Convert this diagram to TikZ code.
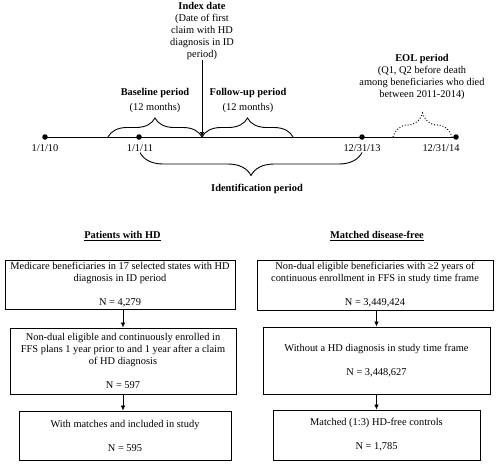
\documentclass[tikz,border=0pt]{standalone}
\usepackage{fontspec}
\setmainfont{Liberation Serif}
\usetikzlibrary{arrows.meta,decorations.pathreplacing}
\begin{document}
\begin{tikzpicture}[x=1pt,y=-1pt,
  every node/.style={font=\fontsize{10.4}{12}\selectfont, inner sep=1pt},
  dot/.style={circle, fill=black, minimum size=5.5pt, inner sep=0pt},
  tline/.style={line width=1pt},
  brc/.style={decorate, decoration={brace, amplitude=#1}, line width=0.9pt},
  box/.style={draw, line width=0.8pt, align=center, inner sep=0pt},
  arr/.style={-{Latex[length=5pt,width=4.5pt]}, line width=0.7pt},
  lbl/.style={align=center}
]
\useasboundingbox (0,0) rectangle (500,463);
% timeline
\node[dot] (d10) at (45,137) {};
\node[dot] (d11) at (139,137) {};
\node[dot] (d13) at (362,137) {};
\node[dot] (d14) at (456,137) {};
\draw[tline] (d10.center) -- (d14.center);
\node (t10) at (45,148) {1/1/10};
\node (t11) at (140,148) {1/1/11};
\node (t13) at (362,148) {12/31/13};
\node (t14) at (441,148) {12/31/14};
% index date
\node[lbl] (idx) at (202,30.5) {\textbf{Index date}\\(Date of first\\claim with HD\\diagnosis in ID\\period)};
\coordinate (idxpt) at (202,137);
\draw[arr] (idx.south) -- (idxpt);
% baseline / follow-up
\coordinate (bl0) at (108,137);
\coordinate (fu1) at (293,137);
\draw[brc=19pt] (bl0) -- (idxpt);
\draw[brc=19pt] (idxpt) -- (fu1);
\node[lbl, font=\fontsize{10.4}{15}\selectfont] (bl) at (155,100.5) {\textbf{Baseline period}\\(12 months)};
\node[lbl, font=\fontsize{10.4}{15}\selectfont] (fu) at (248,100.5) {\textbf{Follow-up period}\\(12 months)};
% EOL
\coordinate (eol0) at (393,137);
\coordinate (eol1) at (452,137);
\draw[brc=24pt, dotted, line width=1pt] (eol0) -- (eol1);
\node[lbl] (eol) at (422,77) {\textbf{EOL period}\\(Q1, Q2 before death\\among beneficiaries who died\\between 2011-2014)};
% identification
\coordinate (id0) at (140,152.5);
\coordinate (id1) at (362,152.5);
\draw[brc=23pt] (id1) -- (id0);
\node (idn) at (257,189) {\textbf{Identification period}};
% headers
\node (hl) at (122.5,236) {\textbf{\underline{Patients with HD}}};
\node (hr) at (377,236) {\textbf{\underline{Matched disease-free}}};
% left boxes
\node[box, minimum width=230pt, minimum height=49pt] (L1) at (120,284.5)
  {Medicare beneficiaries in 17 selected states with HD\\diagnosis in ID period\\[12pt]N = 4,279};
\node[box, minimum width=226pt, minimum height=66pt] (L2) at (123,361)
  {Non-dual eligible and continuously enrolled in\\FFS plans 1 year prior to and 1 year after a claim\\of HD diagnosis\\[12pt]N = 597};
\node[box, minimum width=212pt, minimum height=49pt] (L3) at (125,435.5)
  {With matches and included in study\\[12pt]N = 595};
% right boxes
\node[box, minimum width=236pt, minimum height=50pt] (R1) at (375,285)
  {Non-dual eligible beneficiaries with ≥2 years of\\continuous enrollment in FFS in study time frame\\[12pt]N = 3,449,424};
\node[box, minimum width=227pt, minimum height=67pt] (R2) at (376.5,360.5)
  {Without a HD diagnosis in study time frame\\[12pt]N = 3,448,627};
\node[box, minimum width=207pt, minimum height=50pt] (R3) at (376.5,435)
  {Matched (1:3) HD-free controls\\[12pt]N = 1,785};
% arrows
\draw[arr] (L1.south -| L2.north) -- (L2.north);
\draw[arr] (L2.south) -- (L2.south |- L3.north);
\draw[arr] (R1.south -| R2.north) -- (R2.north);
\draw[arr] (R2.south) -- (R2.south |- R3.north);
\end{tikzpicture}
\end{document}
